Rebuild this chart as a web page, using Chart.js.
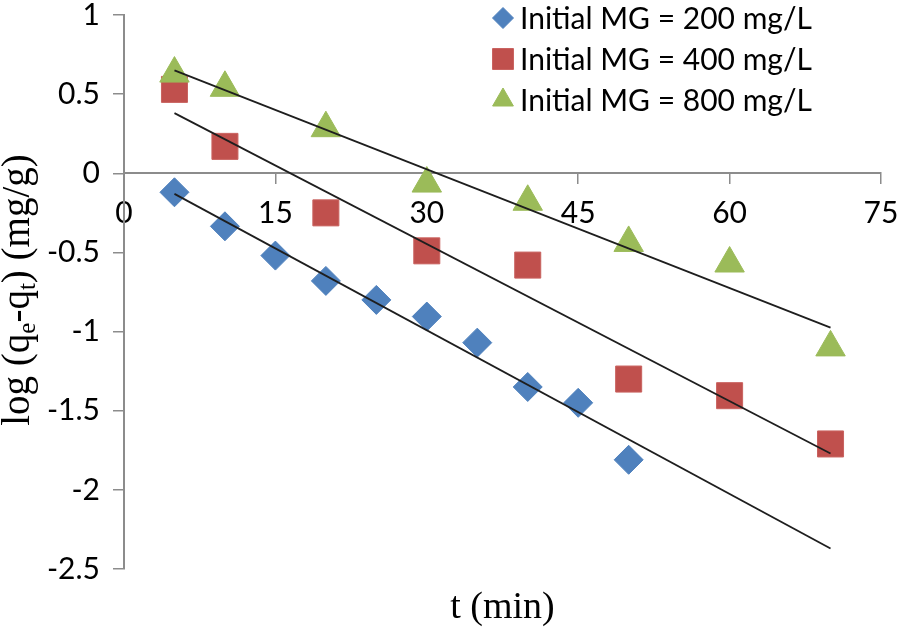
<!DOCTYPE html>
<html>
<head>
<meta charset="utf-8">
<script src="https://cdn.jsdelivr.net/npm/chart.js@4/dist/chart.umd.min.js"></script>
<style>
  html, body { margin: 0; padding: 0; background: #ffffff; }
  #wrap { width: 899px; height: 632px; }
</style>
</head>
<body>
<div id="wrap"><canvas id="c" width="899" height="632"></canvas></div>
<script>
// ---- data ----
const seriesLabels = ['Initial MG = 200 mg/L', 'Initial MG = 400 mg/L', 'Initial MG = 800 mg/L'];
const time200 = [5, 10, 15, 20, 25, 30, 35, 40, 45, 50];
const logQ200 = [-0.12, -0.335, -0.52, -0.68, -0.80, -0.905, -1.07, -1.35, -1.45, -1.81];
const time400 = [5, 10, 20, 30, 40, 50, 60, 70];
const logQ400 = [0.53, 0.17, -0.25, -0.49, -0.58, -1.30, -1.405, -1.71];
const time800 = [5, 10, 20, 30, 40, 50, 60, 70];
const logQ800 = [0.63, 0.54, 0.285, -0.065, -0.18, -0.44, -0.57, -1.10];
// linear trend lines (end points)
const trendTime = [5, 70];
const trend200 = [-0.13, -2.37];
const trend400 = [0.38, -1.77];
const trend800 = [0.65, -0.975];
// axes
const xTicks = [0, 15, 30, 45, 60, 75];
const yTicks = [1, 0.5, 0, -0.5, -1, -1.5, -2, -2.5];
const xTitle = 't (min)';
const yTitleParts = [['log (q', false], ['e', true], ['-q', false], ['t', true], [') (mg/g)', false]];

// ---- styling ----
const COL200 = '#4F81BD', COL400 = '#C0504D', COL800 = '#9BBB59';
const AXIS = '#8c8c8c';
const TICK_FONT = { family: 'Lato', size: 30 };

const pts = (xs, ys) => xs.map((x, i) => ({ x: x, y: ys[i] }));

const trendStyle = { showLine: true, borderColor: '#1e1e1e', borderWidth: 1.8, pointRadius: 0, fill: false, order: 0, isTrend: true };

const datasets = [
  Object.assign({ label: 'trend 200', data: pts(trendTime, trend200) }, trendStyle),
  Object.assign({ label: 'trend 400', data: pts(trendTime, trend400) }, trendStyle),
  Object.assign({ label: 'trend 800', data: pts(trendTime, trend800) }, trendStyle),
  { label: seriesLabels[2], data: pts(time800, logQ800), showLine: false, pointStyle: 'triangle', pointRadius: 17,
    backgroundColor: COL800, borderColor: COL800, borderWidth: 1, order: 1, legendIndex: 2, legendRadius: 12 },
  { label: seriesLabels[1], data: pts(time400, logQ400), showLine: false, pointStyle: 'rect', pointRadius: 18.4,
    backgroundColor: COL400, borderColor: '#c9625f', borderWidth: 1, order: 2, legendIndex: 1, legendRadius: 14.8 },
  { label: seriesLabels[0], data: pts(time200, logQ200), showLine: false, pointStyle: 'rectRot', pointRadius: 14.5,
    backgroundColor: COL200, borderColor: COL200, borderWidth: 1, order: 3, legendIndex: 0, legendRadius: 10.5 }
];

const zeroPad = s => { s.paddingLeft = 0; s.paddingRight = 0; s.paddingTop = 0; s.paddingBottom = 0; };

const overlay = {
  id: 'overlay',
  afterDraw(chart) {
    const ctx = chart.ctx;
    const area = chart.chartArea;
    ctx.save();
    ctx.fillStyle = '#000';

    // x axis title
    ctx.font = '38px "Liberation Serif"';
    ctx.textAlign = 'center';
    ctx.textBaseline = 'alphabetic';
    ctx.fillText(xTitle, (area.left + area.right) / 2, 618);

    // y axis title (rotated, with subscripts)
    const big = '39px "Liberation Serif"', small = '25px "Liberation Serif"';
    let total = 0;
    yTitleParts.forEach(p => { ctx.font = p[1] ? small : big; total += ctx.measureText(p[0]).width; });
    ctx.translate(29, 290);
    ctx.rotate(-Math.PI / 2);
    ctx.textAlign = 'left';
    let x = -total / 2;
    yTitleParts.forEach(p => {
      ctx.font = p[1] ? small : big;
      ctx.fillText(p[0], x, p[1] ? 6 : 0);
      x += ctx.measureText(p[0]).width;
    });
    ctx.restore();

    // legend (inside plot area, top right)
    ctx.save();
    ctx.font = '30px Lato';
    ctx.textAlign = 'left';
    ctx.textBaseline = 'middle';
    const items = chart.data.datasets.filter(d => !d.isTrend).sort((a, b) => a.legendIndex - b.legendIndex);
    items.forEach((d, i) => {
      const y = 18 + i * 41;
      ctx.fillStyle = d.backgroundColor;
      ctx.strokeStyle = d.borderColor;
      ctx.lineWidth = 1;
      Chart.helpers.drawPoint(ctx, { pointStyle: d.pointStyle, radius: d.legendRadius, borderWidth: 1, rotation: 0 }, 503, y);
      ctx.fillStyle = '#000';
      ctx.fillText(d.label, 520, y + 1);
    });
    ctx.restore();
  }
};

new Chart(document.getElementById('c'), {
  type: 'scatter',
  data: { datasets: datasets },
  options: {
    responsive: false,
    devicePixelRatio: 1,
    animation: false,
    events: [],
    layout: { autoPadding: false, padding: { top: 15, right: 18, bottom: 63, left: 0 } },
    plugins: { legend: { display: false }, tooltip: { enabled: false }, title: { display: false } },
    scales: {
      x: {
        type: 'linear',
        position: { y: 0 },
        min: 0, max: 75,
        afterBuildTicks: s => { s.ticks = xTicks.map(v => ({ value: v })); },
        afterFit: s => { zeroPad(s); },
        grid: { display: true, drawOnChartArea: false, drawTicks: true, tickLength: 10, color: AXIS, lineWidth: 1.5 },
        border: { display: true, color: AXIS, width: 2 },
        ticks: { font: TICK_FONT, color: '#000', padding: 12, maxRotation: 0, autoSkip: false, callback: v => String(v) },
        title: { display: false }
      },
      y: {
        type: 'linear',
        position: 'left',
        min: -2.5, max: 1,
        afterBuildTicks: s => { s.ticks = yTicks.map(v => ({ value: v })); },
        afterFit: s => { s.width = 124; zeroPad(s); },
        grid: { display: true, drawOnChartArea: false, drawTicks: true, tickLength: 11, color: AXIS, lineWidth: 1.5 },
        border: { display: true, color: AXIS, width: 2 },
        ticks: { font: TICK_FONT, color: '#000', padding: 13, autoSkip: false, callback: v => String(v) },
        title: { display: false }
      }
    }
  },
  plugins: [overlay]
});
</script>
</body>
</html>
